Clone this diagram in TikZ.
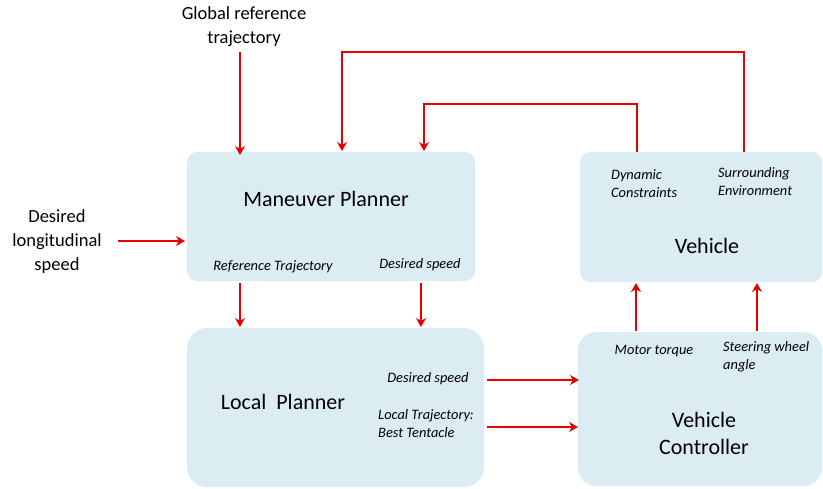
\documentclass[tikz,border=0pt]{standalone}
\usepackage{fontspec}
\setmainfont{Carlito}
\usetikzlibrary{arrows.meta}
\definecolor{boxfill}{RGB}{219,237,243}
\definecolor{arr}{RGB}{230,0,0}
\begin{document}
\begin{tikzpicture}[x=1pt,y=-1pt,
  blk/.style={fill=boxfill,draw=none,rounded corners=#1},
  blk/.default=10pt,
  flow/.style={draw=arr,line width=2.6pt,-{Stealth[width=10pt,length=9pt,inset=3pt]}},
  lbl/.style={font=\fontsize{14.4}{18}\selectfont\itshape,inner sep=0pt},
  ttl/.style={font=\fontsize{22}{27}\selectfont,inner sep=0pt,align=center},
  ext/.style={font=\fontsize{18.5}{24}\selectfont,inner sep=0pt,align=center}]
\useasboundingbox (0,0) rectangle (823,488);
% blocks
\path[blk] (187,152) rectangle (475,281);
\path[blk=20pt] (187,328) rectangle (484,487);
\path[blk] (580,152) rectangle (822,282);
\path[blk=18pt] (578,332) rectangle (822,486);
% block titles
\node[ttl] (mpt) at (326,199) {Maneuver Planner};
\node[ttl] (lpt) at (283,402) {Local\ \ Planner};
\node[ttl] (vt) at (707,246) {Vehicle};
\node[ttl] (vct) at (704,433) {Vehicle\\Controller};
% labels
\node[lbl] (rt) at (273,267) {Reference Trajectory};
\node[lbl] (ds1) at (420,265) {Desired speed};
\node[lbl,align=left,anchor=west] (dc) at (611,184) {Dynamic\\Constraints};
\node[lbl,align=left,anchor=west] (se) at (718,182) {Surrounding\\Environment};
\node[lbl] (ds2) at (428,379) {Desired speed};
\node[lbl,align=left,anchor=west] (lt) at (378,424) {Local Trajectory:\\Best Tentacle};
\node[lbl] (mt) at (654,351) {Motor torque};
\node[lbl,align=left,anchor=west] (sw) at (723,357) {Steering wheel\\angle};
% external inputs
\node[ext] (grt) at (244,27) {Global reference\\trajectory};
\node[ext] (dls) at (57,242) {Desired\\longitudinal\\speed};
% coordinates for connectors
\coordinate (g1) at (240,52);   \coordinate (g2) at (240,155);
\coordinate (d1) at (118,241);  \coordinate (d2) at (185,241);
\coordinate (f1) at (637,152);  \coordinate (f2) at (424,104); \coordinate (f3) at (424,151);
\coordinate (e1) at (744,152);  \coordinate (e2) at (342,52);  \coordinate (e3) at (342,151);
\coordinate (a1) at (240,283);  \coordinate (a2) at (240,327);
\coordinate (b1) at (421,283);  \coordinate (b2) at (421,327);
\coordinate (c1) at (487,380);  \coordinate (c2) at (579,380);
\coordinate (h1) at (487,427);  \coordinate (h2) at (578,427);
\coordinate (m1) at (636,331);  \coordinate (m2) at (636,283);
\coordinate (s1) at (757,331);  \coordinate (s2) at (757,283);
% connectors
\draw[flow] (g1) -- (g2);
\draw[flow] (d1) -- (d2);
\draw[flow] (f1) |- (f2) -- (f3);
\draw[flow] (e1) |- (e2) -- (e3);
\draw[flow] (a1) -- (a2);
\draw[flow] (b1) -- (b2);
\draw[flow] (c1) -- (c2);
\draw[flow] (h1) -- (h2);
\draw[flow] (m1) -- (m2);
\draw[flow] (s1) -- (s2);
\end{tikzpicture}
\end{document}
